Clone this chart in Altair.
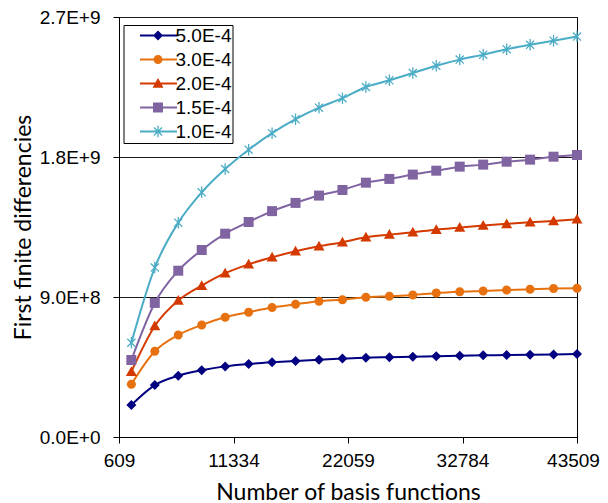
import altair as alt
import pandas as pd

series_names = ["5.0E-4", "3.0E-4", "2.0E-4", "1.5E-4", "1.0E-4"]
colors = ["#000080", "#E8710F", "#D43A00", "#8064A2", "#4BACC6"]

x_vals = [1766, 3963, 6160, 8357, 10554, 12751, 14948, 17145, 19342, 21539,
          23736, 25933, 28130, 30327, 32524, 34721, 36918, 39115, 41312, 43509]

s_5e4 = [2.06e8, 3.34e8, 3.94e8, 4.29e8, 4.54e8, 4.69e8, 4.80e8, 4.89e8, 4.97e8, 5.04e8,
         5.10e8, 5.13e8, 5.16e8, 5.19e8, 5.22e8, 5.25e8, 5.27e8, 5.29e8, 5.31e8, 5.33e8]
s_3e4 = [3.39e8, 5.51e8, 6.56e8, 7.20e8, 7.70e8, 8.02e8, 8.32e8, 8.53e8, 8.73e8, 8.83e8,
         8.98e8, 9.05e8, 9.13e8, 9.26e8, 9.34e8, 9.39e8, 9.45e8, 9.50e8, 9.54e8, 9.56e8]
s_2e4 = [4.20e8, 7.14e8, 8.77e8, 9.73e8, 10.53e8, 11.10e8, 11.55e8, 11.94e8, 12.26e8, 12.52e8,
         12.84e8, 13.01e8, 13.16e8, 13.33e8, 13.46e8, 13.59e8, 13.70e8, 13.80e8, 13.89e8, 14.00e8]
s_15e4 = [4.95e8, 8.62e8, 10.69e8, 12.02e8, 13.07e8, 13.82e8, 14.52e8, 15.05e8, 15.52e8, 15.88e8,
          16.35e8, 16.59e8, 16.87e8, 17.12e8, 17.38e8, 17.51e8, 17.70e8, 17.83e8, 18.02e8, 18.13e8]
s_1e4 = [6.06e8, 10.89e8, 13.78e8, 15.73e8, 17.23e8, 18.47e8, 19.53e8, 20.43e8, 21.17e8, 21.78e8,
         22.50e8, 22.93e8, 23.40e8, 23.87e8, 24.26e8, 24.58e8, 24.93e8, 25.21e8, 25.48e8, 25.74e8]

x_ticks = [609, 11334, 22059, 32784, 43509]
y_ticks = [0, 9e8, 1.8e9, 2.7e9]

all_series = [s_5e4, s_3e4, s_2e4, s_15e4, s_1e4]
rows = []
for name, vals in zip(series_names, all_series):
    for xv, yv in zip(x_vals, vals):
        rows.append({"series": name, "x": xv, "y": yv})
df = pd.DataFrame(rows)

# marker shapes (unit square paths)
diamond = "M0,-1L1,0L0,1L-1,0Z"
circle = "M-0.9,0A0.9,0.9 0 1,1 0.9,0A0.9,0.9 0 1,1 -0.9,0Z"
triangle = "M0,-1.1L1.1,0.85L-1.1,0.85Z"
square = "M-1,-1H1V1H-1Z"
aster = ("M-0.13,-1.15H0.13V1.15H-0.13Z"
         "M-0.72,-0.9L0.9,0.72L0.72,0.9L-0.9,-0.72Z"
         "M-0.9,0.72L0.72,-0.9L0.9,-0.72L-0.72,0.9Z")
marker_paths = [diamond, circle, triangle, square, aster]

seg = "M-3.6,-0.2H3.8V0.2H-3.6Z"
legend_paths = [seg + p for p in marker_paths]

xs = alt.Scale(domain=[609, 43509], nice=False, zero=False)
ys = alt.Scale(domain=[0, 2.7e9], nice=False)

x_enc = alt.X("x:Q", scale=xs, axis=alt.Axis(
    values=x_ticks, format="d", title="Number of basis functions",
    grid=False, labelFlush=False,
    labelOffset={"condition": {"test": "datum.value == 43509", "value": -4}, "value": 0},
    titleY=62, titleBaseline="alphabetic"))
y_enc = alt.Y("y:Q", scale=ys, axis=alt.Axis(
    values=y_ticks, title="First finite differencies",
    labelExpr="replace(format(datum.value, '.1e'), 'e', 'E')",
    grid=True, labelFlush=False, titleX=-96, titleY=210, titleBaseline="middle", titleAngle=270))

color_scale = alt.Scale(domain=series_names, range=colors)

base = alt.Chart(df)

lines = base.mark_line(interpolate="monotone", strokeWidth=2).encode(
    x=x_enc, y=y_enc,
    color=alt.Color("series:N", scale=color_scale, legend=None),
    detail="series:N",
)

points = base.mark_point(filled=True, opacity=1, size=100).encode(
    x=x_enc, y=y_enc,
    color=alt.Color("series:N", scale=color_scale, legend=None),
    shape=alt.Shape("series:N", scale=alt.Scale(domain=series_names, range=marker_paths), legend=None),
)

leg = dict(
    title=None, orient="none", legendX=4.5, legendY=8, direction="vertical",
    labelFont="Liberation Sans", labelFontSize=19, labelColor="black",
    labelExpr="datum.label + '\u00a0\u00a0'",
    symbolSize=100, symbolOffset=24, labelOffset=8, rowPadding=4,
    padding=1, strokeColor="black", fillColor="white", labelLimit=200)

legend_layer = base.mark_point(filled=True, opacity=1).encode(
    x=x_enc, y=y_enc,
    color=alt.Color("series:N", scale=color_scale, legend=alt.Legend(**leg)),
    shape=alt.Shape("series:N", scale=alt.Scale(domain=series_names, range=legend_paths),
                    legend=alt.Legend(**leg)),
).transform_filter("datum.y < -1")

chart = alt.layer(lines, points, legend_layer).resolve_scale(
    color="independent", shape="independent"
).properties(
    width=458, height=420,
    autosize=alt.AutoSizeParams(type="none"),
    padding={"left": 111, "top": 9, "right": 23, "bottom": 66},
).configure_view(
    stroke="black", strokeWidth=1
).configure_axis(
    labelFont="Liberation Sans", labelFontSize=19, labelColor="black",
    titleFont="Lato", titleFontSize=23, titleFontWeight="normal", titleColor="black",
    domainColor="black", tickColor="black", tickSize=6, domainWidth=1,
    gridColor="#1a1a1a", gridWidth=1, gridOpacity=1,
).configure_axisY(labelPadding=13).configure_axisX(labelPadding=8)

chart.save("out.html", embed_options={"renderer": "svg", "actions": False})
